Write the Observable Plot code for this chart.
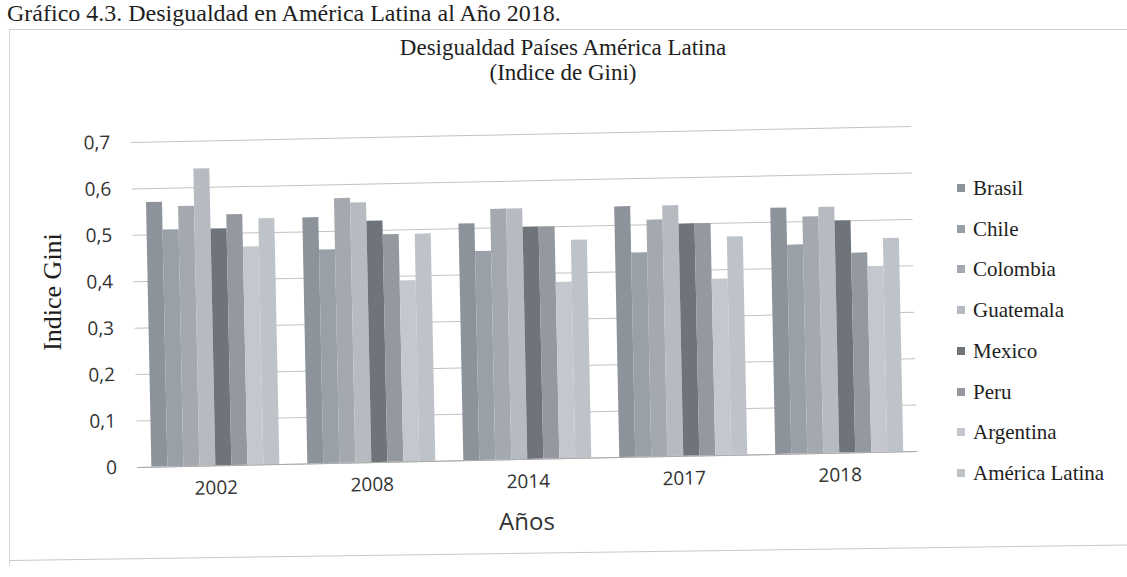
<!DOCTYPE html>
<html>
<head>
<meta charset="utf-8">
<script src="https://cdn.jsdelivr.net/npm/d3@7"></script>
<script src="https://cdn.jsdelivr.net/npm/@observablehq/plot@0.6"></script>
<style>
  html, body { margin: 0; padding: 0; background: #ffffff; }
  #root { position: relative; width: 1127px; height: 577px; overflow: hidden; background: #ffffff; }
  .serif { font-family: "Liberation Serif", "Times New Roman", serif; color: #1e1e1e; }
  .sans { font-family: "Open Sans", sans-serif; color: #333333; }
  #pageTitle { position: absolute; left: 7px; top: 1px; font-size: 24px; line-height: 25px; white-space: nowrap; }
  #chartTitle { position: absolute; left: 358px; width: 410px; top: 35px; font-size: 23px; line-height: 25px; text-align: center; }
  #yLabel { position: absolute; left: 53px; top: 292px; font-size: 26px; line-height: 26px; white-space: nowrap; transform: translate(-50%, -50%) rotate(-90deg); }
  #xLabel { position: absolute; left: 427px; width: 200px; top: 509px; font-size: 24px; line-height: 24px; text-align: center; }
  #boxTop { position: absolute; left: 10px; top: 29px; width: 1117px; border-top: 1px solid #d0d0d0; }
  #boxLeft { position: absolute; left: 9px; top: 29px; height: 537px; border-left: 1px solid #d6d6d6; }
  #boxBottom { position: absolute; left: 10px; top: 560px; width: 1117px; border-top: 1px solid #c8c8c8; transform-origin: 0 0; transform: rotate(-0.8deg); }
  #legend { position: absolute; left: 956px; top: 175px; }
  .item { position: absolute; left: 0; height: 26px; white-space: nowrap; font-size: 21px; line-height: 26px; }
  .sw { position: absolute; left: 1px; top: 9px; width: 8px; height: 8px; }
  .lab { position: absolute; left: 17px; top: 0; }
</style>
</head>
<body>
<div id="root">
  <div id="boxTop"></div>
  <div id="boxLeft"></div>
  <div id="boxBottom"></div>
  <div id="pageTitle" class="serif">Gráfico 4.3. Desigualdad en América Latina al Año 2018.</div>
  <div id="chartTitle" class="serif">Desigualdad Países América Latina<br>(Indice de Gini)</div>
  <div id="yLabel" class="serif">Indice Gini</div>
  <div id="xLabel" class="sans">Años</div>
  <div id="legend" class="serif"></div>
</div>
<script>
// ---- Data ----
const years = ["2002", "2008", "2014", "2017", "2018"];
const countries = ["Brasil", "Chile", "Colombia", "Guatemala", "Mexico", "Peru", "Argentina", "América Latina"];
const brasil    = [0.57, 0.53, 0.51, 0.54, 0.53];
const chile     = [0.51, 0.46, 0.45, 0.44, 0.45];
const colombia  = [0.56, 0.57, 0.54, 0.51, 0.51];
const guatemala = [0.64, 0.56, 0.54, 0.54, 0.53];
const mexico    = [0.51, 0.52, 0.50, 0.50, 0.50];
const peru      = [0.54, 0.49, 0.50, 0.50, 0.43];
const argentina = [0.47, 0.39, 0.38, 0.38, 0.40];
const americaLatina = [0.53, 0.49, 0.47, 0.47, 0.46];
const yTicks = [0, 0.1, 0.2, 0.3, 0.4, 0.5, 0.6, 0.7];
const colors = ["#8d939b", "#9aa0a7", "#a3a9af", "#b6bbc1", "#6f747b", "#94999f", "#c4c8ce", "#bec3ca"];

const series = [brasil, chile, colombia, guatemala, mexico, peru, argentina, americaLatina];
const data = years.flatMap((yr, j) =>
  countries.map((c, i) => ({ year: yr, country: c, value: series[i][j] })));

const fmt = d => d === 0 ? "0" : d.toFixed(1).replace(".", ",");

const chart = Plot.plot({
  width: 1127,
  height: 577,
  marginLeft: 133,
  marginRight: 213,
  marginTop: 134,
  marginBottom: 118,
  style: { fontFamily: "'Open Sans', sans-serif", fontSize: "19px", color: "#333333", background: "transparent", overflow: "visible" },
  fx: { domain: years, padding: 0, axis: "bottom", tickSize: 0, tickPadding: 15, label: null },
  x: { domain: countries, paddingInner: 0, paddingOuter: 0.7, axis: null },
  y: { domain: [0, 0.7], ticks: yTicks, tickFormat: fmt, tickSize: 0, tickPadding: 21, label: null },
  color: { domain: countries, range: colors },
  marks: [
    Plot.gridY(yTicks, { stroke: "#c2c2c2", strokeOpacity: 1 }),
    Plot.barY(data, { fx: "year", x: "country", y: "value", fill: "country" }),
    Plot.ruleY([0], { stroke: "#aaaaaa" })
  ]
});
chart.style.position = "absolute";
chart.style.left = "0px";
chart.style.top = "0px";
chart.style.transformOrigin = "523px 297px";
chart.style.transform = "rotate(-1.17deg)";
document.getElementById("root").appendChild(chart);

// ---- Legend ----
const legend = document.getElementById("legend");
countries.forEach((c, i) => {
  const item = document.createElement("div");
  item.className = "item";
  item.style.top = (i * 40.7) + "px";
  const sw = document.createElement("span");
  sw.className = "sw";
  sw.style.background = colors[i];
  const lab = document.createElement("span");
  lab.className = "lab";
  lab.textContent = c;
  item.appendChild(sw);
  item.appendChild(lab);
  legend.appendChild(item);
});
</script>
</body>
</html>
